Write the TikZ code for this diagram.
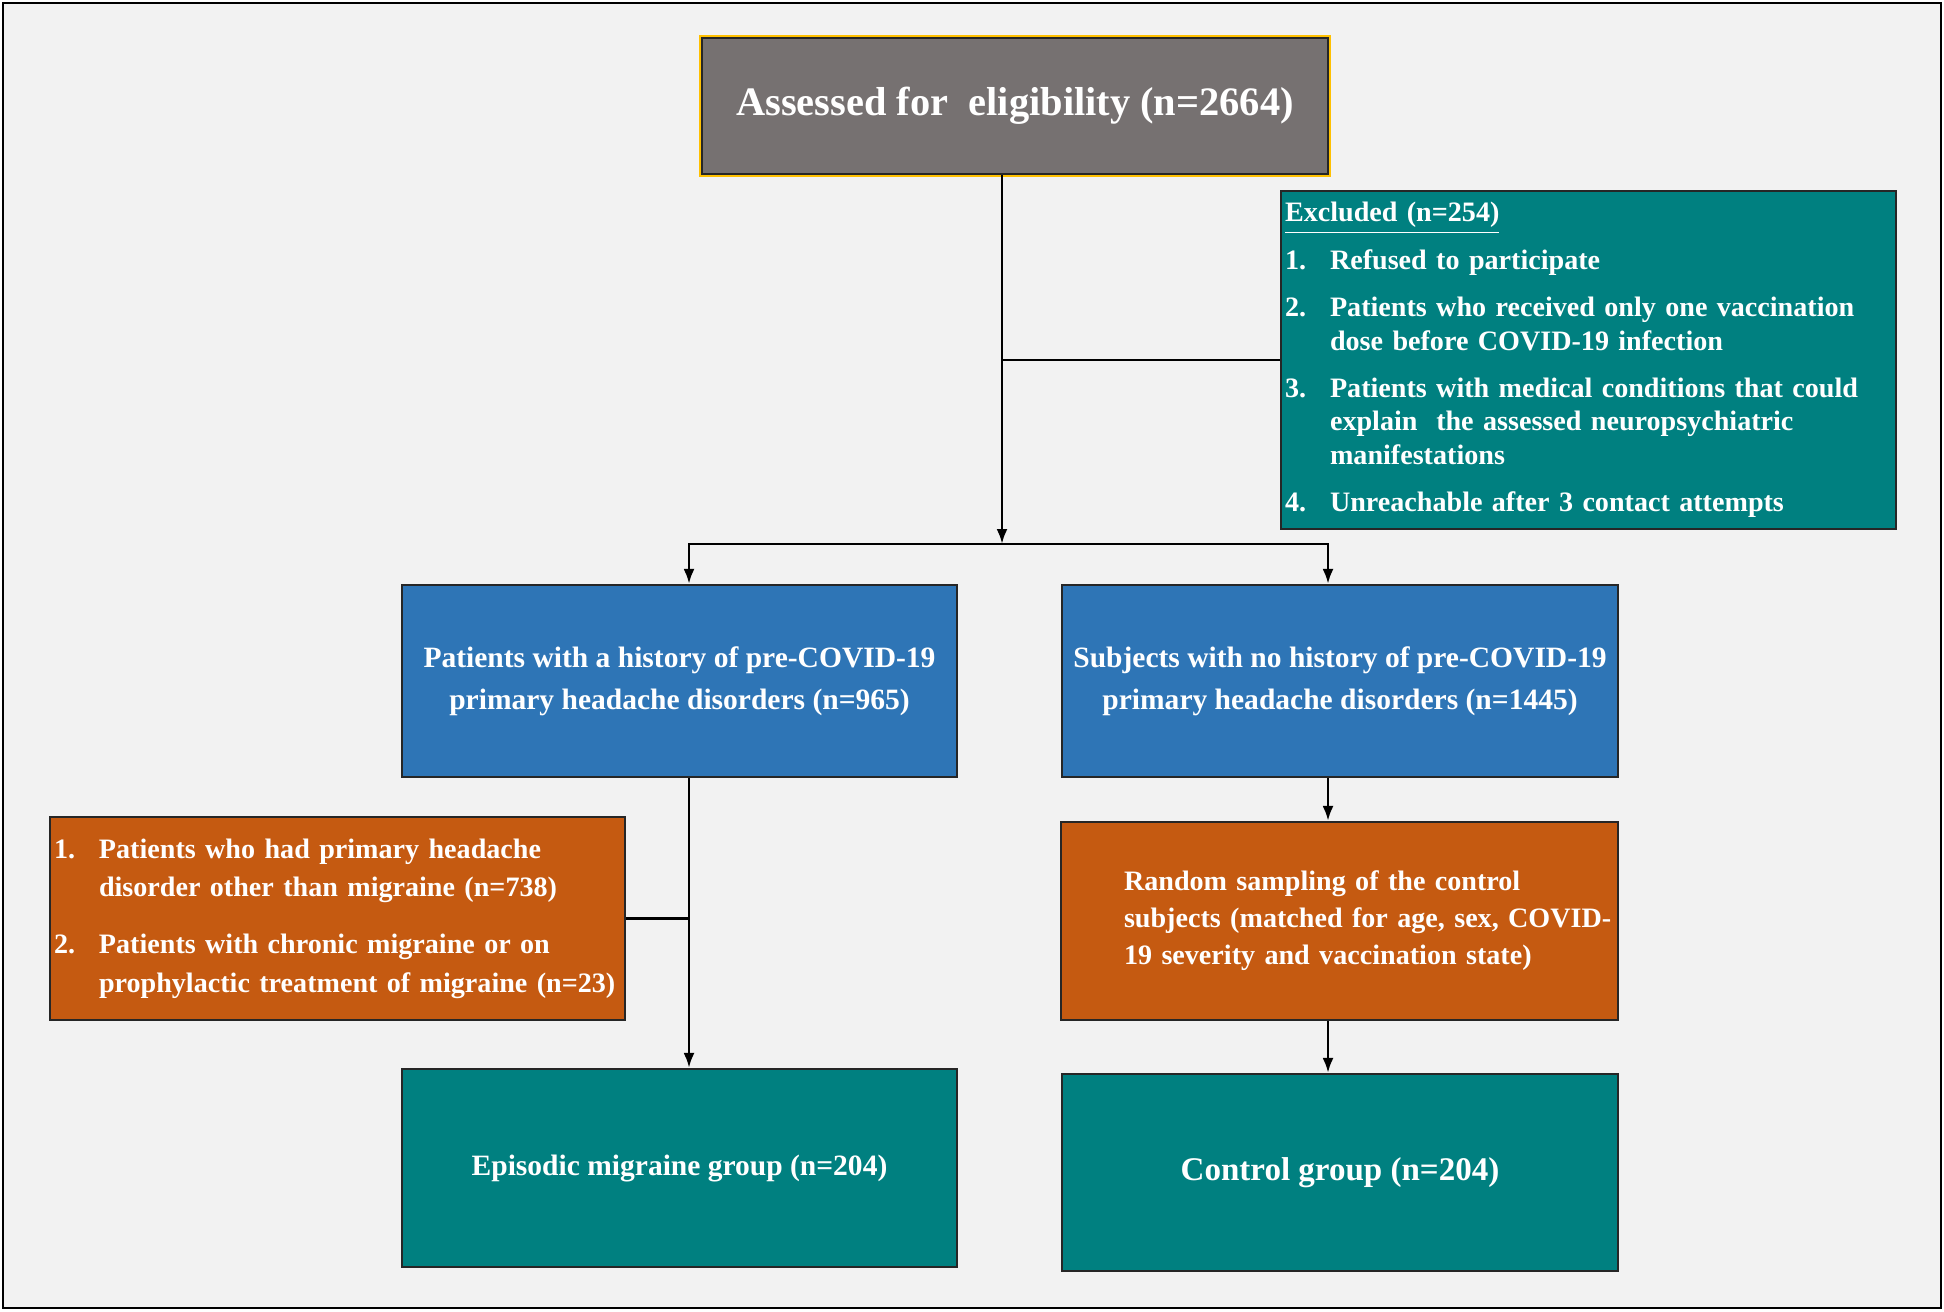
\documentclass[tikz,border=0pt]{standalone}
\usepackage{fontspec}
\setmainfont{Liberation Serif}
\usetikzlibrary{arrows.meta}
\definecolor{pagegrey}{HTML}{F2F2F2}
\definecolor{headgrey}{HTML}{767171}
\definecolor{tealbox}{HTML}{008080}
\definecolor{bluebox}{HTML}{2E75B6}
\definecolor{orangebox}{HTML}{C55A11}
\definecolor{goldline}{HTML}{FFC000}
\newcommand{\numitem}[1]{\makebox[0.45cm][l]{#1}}
\newcommand{\numcont}{\hspace*{0.45cm}}

\begin{document}
\begin{tikzpicture}[-,
					>={Latex[length=1.5mm,width=1.1mm]},
					thick,
					every node/.style={text=white},
					main box/.style={rectangle,draw=black!85,line width=0.6pt,inner sep=3pt},
					head box/.style={main box,fill=headgrey,preaction={draw=goldline,line width=1.6pt},
						minimum width=6.26cm,minimum height=1.36cm,font=\bfseries\fontsize{11.5}{13}\selectfont},
					excl box/.style={main box,fill=tealbox,minimum height=3.38cm,text width=6.07cm,
						inner xsep=0.04cm,align=left,font=\bfseries\fontsize{8}{9.5}\selectfont},
					group box/.style={main box,fill=bluebox,minimum width=5.55cm,minimum height=1.92cm,
						align=center,font=\bfseries\fontsize{8.4}{12}\selectfont},
					drop box/.style={main box,fill=orangebox,align=left},
					end box/.style={main box,fill=tealbox,minimum width=5.55cm,minimum height=1.98cm,align=center}]

  % frame
  \useasboundingbox (0,0) rectangle (19.44,-13.11);
  \draw[fill=pagegrey,line width=0.8pt] (0.03,-0.03) rectangle (19.41,-13.08);

  % boxes
  \node[head box] (assess) at (10.15,-1.06) {Assessed for~~eligibility (n=2664)};
  \node[excl box] (excl) at (15.885,-3.60) {%
    \underline{Excluded (n=254)}\\[4pt]
    \numitem{1.}Refused to participate\\[4pt]
    \numitem{2.}Patients who received only one vaccination\\
    \numcont dose before COVID-19 infection\\[4pt]
    \numitem{3.}Patients with medical conditions that could\\
    \numcont explain~ the assessed neuropsychiatric\\
    \numcont manifestations\\[4pt]
    \numitem{4.}Unreachable after 3 contact attempts};
  \node[group box] (hist) at (6.795,-6.81) {Patients with a history of pre-COVID-19\\primary headache disorders (n=965)};
  \node[group box,minimum width=5.56cm] (nohist) at (13.40,-6.81) {Subjects with no history of pre-COVID-19\\primary headache disorders (n=1445)};
  \node[drop box,minimum height=2.03cm,text width=5.67cm,inner xsep=0.04cm,
        font=\bfseries\fontsize{8}{10.9}\selectfont] (other) at (3.375,-9.185) {%
    \numitem{1.}Patients who had primary headache\\
    \numcont disorder other than migraine (n=738)\\[5.5pt]
    \numitem{2.}Patients with chronic migraine or on\\
    \numcont prophylactic treatment of migraine (n=23)};
  \node[drop box,minimum height=1.98cm,text width=4.31cm,inner xsep=0.63cm,
        font=\bfseries\fontsize{8}{10.5}\selectfont] (sampling) at (13.395,-9.21) {%
    \mbox{Random sampling of the control}\\
    \mbox{subjects (matched for age, sex, COVID-}\\
    \mbox{19 severity and vaccination state)}};
  \node[end box,font=\bfseries\fontsize{8.4}{12}\selectfont] (migr) at (6.795,-11.68) {Episodic migraine group (n=204)};
  \node[end box,minimum width=5.56cm,minimum height=1.97cm,font=\bfseries\fontsize{9.4}{12}\selectfont] (ctrl) at (13.40,-11.725) {Control group (n=204)};

  % connectors
  \coordinate (split) at (10.02,-5.44);
  \coordinate (sl) at (6.89,-5.44);
  \coordinate (sr) at (13.28,-5.44);
  \draw[->] (assess.south -| split) -- (split);
  \draw (excl.west -| split) -- (excl.west);
  \draw[->] (split) -- (sl) -- (hist.north -| sl);
  \draw[->] (split) -- (sr) -- (nohist.north -| sr);
  \draw[->] (hist.south -| sl) -- (migr.north -| sl);
  \draw (other.east) -- (other.east -| sl);
  \draw[->] (nohist.south -| sr) -- (sampling.north -| sr);
  \draw[->] (sampling.south -| sr) -- (ctrl.north -| sr);
\end{tikzpicture}
\end{document}
